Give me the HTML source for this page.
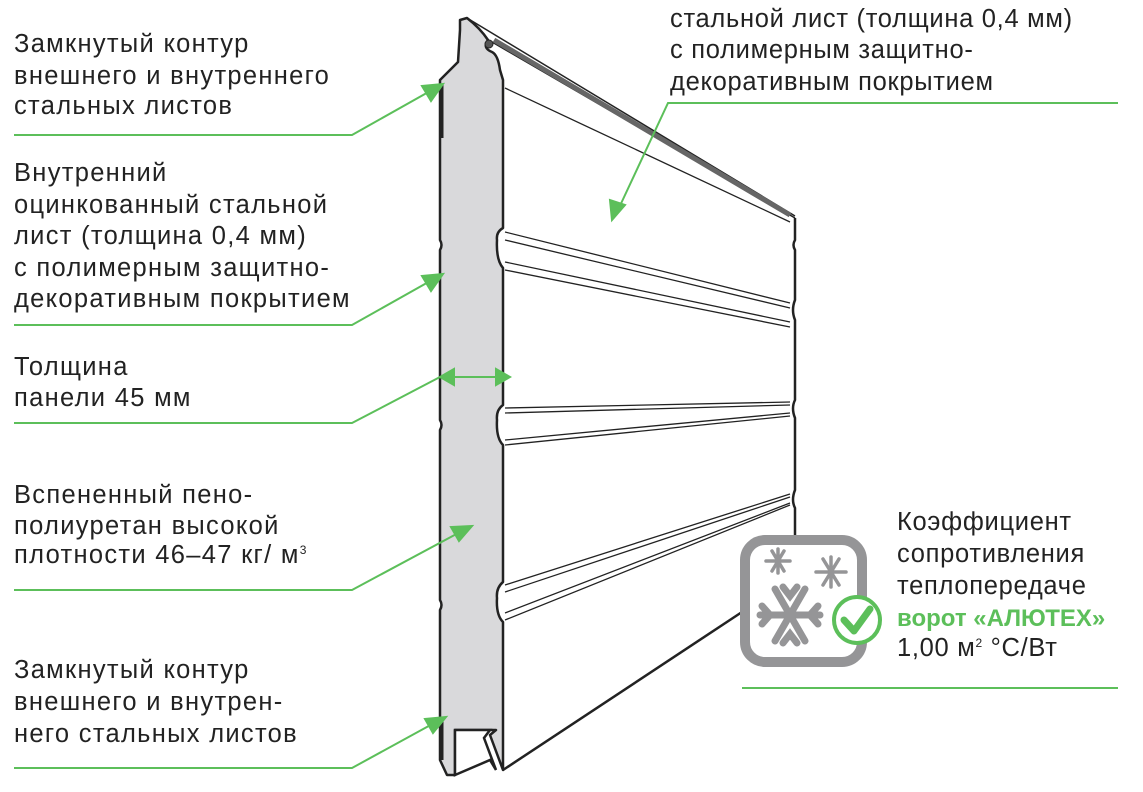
<!DOCTYPE html>
<html><head><meta charset="utf-8"><style>
html,body{margin:0;padding:0;background:#fff;}
svg{display:block;}
text{font-family:"Liberation Sans",sans-serif;font-size:25.5px;letter-spacing:1.3px;fill:#222;}
.rt{letter-spacing:0.7px;}
</style></head><body>
<svg width="1143" height="792" viewBox="0 0 1143 792" xmlns="http://www.w3.org/2000/svg">
<path d="M467,18 L795,218 L795,535 L503,770 L503,20 Z" fill="#fff"/>
<path d="M492,42 L795,218" stroke="#222" stroke-width="1.5" fill="none"/>
<path d="M467,18 L795,216" stroke="#222" stroke-width="1.5" fill="none"/>
<path d="M494,40 L790,215" stroke="#666" stroke-width="5" fill="none"/>
<path d="M505,88 L790,222" stroke="#222" stroke-width="1.3"/>
<path d="M795,218 L795,240 Q792,245 795,250 L795,300 Q791,310 795,320 L795,400 Q791,408 795,418 L795,490 Q791,500 795,508 L795,540" stroke="#222" stroke-width="2.5" fill="none"/>
<path d="M503,770 L742,612" stroke="#222" stroke-width="2.5"/>
<g stroke="#222" stroke-width="1.3" fill="none">
<path d="M505,232 L790,303"/><path d="M505,240 L790,308"/><path d="M505,262 L790,322"/><path d="M505,270 L790,327"/>
<path d="M505,408 L790,402"/><path d="M505,413 L790,405"/><path d="M505,440 L790,413"/><path d="M505,445 L790,416"/>
<path d="M505,585 L790,494"/><path d="M505,592 L790,497"/><path d="M505,613 L790,503"/><path d="M505,620 L790,505"/>
</g>
<path d="M460,20 L467,18 Q480,28 488,40 Q482,48 492,52 Q498,55 500,70 L503,80 L503,228 Q496,232 497,240 Q496,260 503,268 L503,405 Q496,410 497,420 Q496,438 503,445 L503,582 Q496,588 497,598 Q496,615 503,622 L503,770 L490,735 L496,730 L455,730 L455,775 L447,775 L440,760 L440,610 Q443,605 440,600 L440,430 Q443,425 440,420 L440,250 Q443,245 440,240 L440,80 Q450,70 458,62 L460,30 Z" fill="#d9d9db" stroke="#222" stroke-width="2.5" stroke-linejoin="round"/>
<path d="M455,775 L455,730 L490,730 L484,738 L496,770 L490,760 L455,775 Z" fill="#fff" stroke="#222" stroke-width="2.5"/>
<circle cx="489" cy="44" r="4" fill="#555" stroke="#222"/>
<path d="M442,85 L442,138" stroke="#222" stroke-width="3"/>
<path d="M442,720 L442,760" stroke="#222" stroke-width="3"/>
<g stroke="#5cbf5a" stroke-width="2" fill="#5cbf5a">
<path d="M14,135 L352,135 L432,90" fill="none"/><polygon points="443,84 422,86 431,101"/>
<path d="M14,325 L352,325 L432,280" fill="none"/><polygon points="443,274 422,276 431,291"/>
<path d="M14,423 L352,423 L440,377" fill="none"/><path d="M445,377 L505,377" fill="none"/>
<polygon points="440,377 454,369 454,385"/><polygon points="510,377 496,369 496,385"/>
<path d="M14,590 L352,590 L462,531" fill="none"/><polygon points="472,526 451,527 459,541"/>
<path d="M14,768 L352,768 L436,722" fill="none"/><polygon points="446,717 425,719 433,733"/>
<path d="M1118,103 L668,103 L618,210" fill="none"/><polygon points="612,220 610,200 625,205"/>
<path d="M742,688 L1118,688" fill="none"/>
</g>
<rect x="745" y="540" width="117" height="122" rx="20" fill="#fff" stroke="#959597" stroke-width="10"/>
<g stroke="#959597" stroke-width="7" stroke-linecap="round" fill="none">
<g transform="translate(790,615)"><path d="M-30,0 H30 M-15,-26 L15,26 M-15,26 L15,-26 M-28,-9 L-20,0 L-28,9 M28,-9 L20,0 L28,9 M-7,-28 L0,-19 L7,-28 M-7,28 L0,19 L7,28"/></g>
</g>
<g stroke="#959597" stroke-width="3.5" stroke-linecap="round" fill="none">
<g transform="translate(778,561)"><path d="M-12,0 H12 M-6,-10 L6,10 M-6,10 L6,-10 M0,-12 V12"/></g>
<g transform="translate(831,572)"><path d="M-15,0 H15 M-8,-13 L8,13 M-8,13 L8,-13 M0,-15 V15"/></g>
</g>
<circle cx="857" cy="620" r="23" fill="#fff" stroke="#5cbf5a" stroke-width="4"/>
<path d="M844,620 L854,631 L870,609" stroke="#5cbf5a" stroke-width="7" fill="none" stroke-linecap="round" stroke-linejoin="round"/>
<text x="14" y="52">Замкнутый контур</text>
<text x="14" y="84">внешнего и внутреннего</text>
<text x="14" y="114">стальных листов</text>
<text x="14" y="181">Внутренний</text>
<text x="14" y="213">оцинкованный стальной</text>
<text x="14" y="244">лист (толщина 0,4 мм)</text>
<text x="14" y="276">с полимерным защитно-</text>
<text x="14" y="307">декоративным покрытием</text>
<text x="14" y="375">Толщина</text>
<text x="14" y="406">панели 45 мм</text>
<text x="14" y="503">Вспененный пено-</text>
<text x="14" y="534">полиуретан высокой</text>
<text x="14" y="563">плотности 46–47 кг/ м<tspan font-size="12" dy="-9">3</tspan></text>
<text x="14" y="678">Замкнутый контур</text>
<text x="14" y="710">внешнего и внутрен-</text>
<text x="14" y="742">него стальных листов</text>
<text class="rt" x="670" y="27">стальной лист (толщина 0,4 мм)</text>
<text class="rt" x="670" y="58">с полимерным защитно-</text>
<text class="rt" x="670" y="90">декоративным покрытием</text>
<text class="rt" x="897" y="530">Коэффициент</text>
<text class="rt" x="897" y="562">сопротивления</text>
<text class="rt" x="897" y="594">теплопередаче</text>
<text x="897" y="626" style="fill:#5cbf5a;font-weight:bold;letter-spacing:0;font-size:24px">ворот «АЛЮТЕХ»</text>
<text class="rt" x="897" y="656">1,00 м<tspan font-size="12" dy="-9">2</tspan><tspan dy="9"> °С/Вт</tspan></text>
</svg>
</body></html>
